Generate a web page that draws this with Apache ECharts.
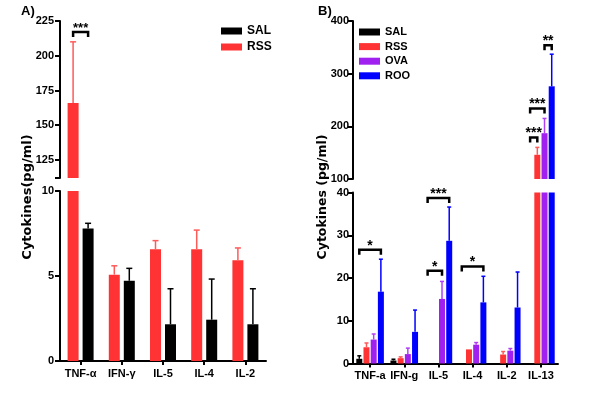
<!DOCTYPE html>
<html><head><meta charset="utf-8">
<script src="https://cdn.jsdelivr.net/npm/echarts@6/dist/echarts.min.js"></script>
<style>html,body{margin:0;padding:0;background:#fff}#c{width:600px;height:403px}</style>
</head><body><div id="c"></div>
<script>
// ---------- Panel A data ----------
const catsA = ['TNF-α', 'IFN-γ', 'IL-5', 'IL-4', 'IL-2'];
const rssA = [166, 5.08, 6.57, 6.57, 5.92];
const rssAErr = [44, 0.52, 0.51, 1.13, 0.73];
const salA = [7.8, 4.72, 2.16, 2.43, 2.16];
const salAErr = [0.3, 0.73, 2.09, 2.39, 2.09];
const ticksATop = [125, 150, 175, 200, 225];
// significance: [category, fromBar, toBar, yValue, label]
const sigA = [[0, 0, 1, 217, '***']];

// ---------- Panel B data ----------
const catsB = ['TNF-a', 'IFN-g', 'IL-5', 'IL-4', 'IL-2', 'IL-13'];
const salB = [1.1, 0.7, null, null, null, null];
const salBErr = [0.7, 0.3, null, null, null, null];
const rssB = [3.8, 1.25, null, 3.3, 2.1, 146];
const rssBErr = [1.0, 0.3, null, null, 0.7, 14];
const ovaB = [5.6, 2.2, 15.1, 4.4, 3.0, 187];
const ovaBErr = [1.3, 1.4, 4.1, 0.5, 0.5, 28];
const rooB = [16.8, 7.4, 28.7, 14.3, 13.1, 276];
const rooBErr = [7.6, 5.1, 7.9, 6.1, 8.3, 61];
const sigBLow = [[0, 0, 3, 26.6, '*'], [2, 0, 3, 38.7, '***'], [2, 0, 2, 21.7, '*'], [3, 0, 3, 22.7, '*']];
const sigBHigh = [[5, 0, 1, 179, '***'], [5, 0, 2, 234, '***'], [5, 2, 3, 354, '**']];

// ---------- styling ----------
const FONT = '"Liberation Sans", Arial, sans-serif';
const RED = '#ff3333', RED_E = '#ff5a5a', BLACK = '#000000', PURPLE = '#a020f0', BLUE = '#0000ff';
const lab = { color: '#000', fontWeight: 'bold', fontSize: 11, fontFamily: FONT };
const A_BW = 11, A_GAP = 4, B_BW = 6, B_GAP = 1.2;

function xAx(grid, cats, show) {
  return {
    type: 'category', gridIndex: grid, data: cats, show: show,
    axisLine: { show: true, lineStyle: { color: '#000', width: 2 } },
    axisTick: { show: true, alignWithLabel: true, length: 4, lineStyle: { color: '#000', width: 2 } },
    axisLabel: Object.assign({ interval: 0, margin: 7 }, lab),
    splitLine: { show: false }
  };
}
function yAx(grid, min, max, extra) {
  return Object.assign({
    type: 'value', gridIndex: grid, min: min, max: max,
    axisLine: { show: true, lineStyle: { color: '#000', width: 2 } },
    axisTick: { show: true, length: 5, lineStyle: { color: '#000', width: 2 } },
    axisLabel: Object.assign({ margin: 6 }, lab),
    splitLine: { show: false }
  }, extra);
}
function bar(name, data, ai, color, bw, gapPx) {
  return {
    type: 'bar', name: name, xAxisIndex: ai, yAxisIndex: ai, data: data,
    barWidth: bw, barGap: (gapPx / bw * 100) + '%', clip: true, silent: true,
    itemStyle: { color: color }, z: 2
  };
}
function errS(ai, vals, errs, i, n, bw, gapPx, color, capW, lo, hi) {
  const data = vals.map((v, k) => [k, v, errs[k]])
    .filter(d => d[1] != null && d[2] != null && d[1] >= lo && d[1] <= hi);
  return {
    type: 'custom', xAxisIndex: ai, yAxisIndex: ai, silent: true, z: 3,
    encode: { x: 0, y: 1 }, data: data,
    renderItem: function (p, api) {
      const c = api.value(0), v = api.value(1), e = api.value(2);
      const off = (i - (n - 1) / 2) * (bw + gapPx);
      const b = api.coord([c, v]), t = api.coord([c, v + e]);
      const x = b[0] + off;
      return { type: 'group', children: [
        { type: 'line', shape: { x1: x, y1: b[1], x2: x, y2: t[1] }, style: { stroke: color, lineWidth: 1.5 } },
        { type: 'line', shape: { x1: x - capW / 2, y1: t[1], x2: x + capW / 2, y2: t[1] }, style: { stroke: color, lineWidth: 1.5 } }
      ] };
    }
  };
}
function sigS(ai, list, n, bw, gapPx, fs) {
  return {
    type: 'custom', xAxisIndex: ai, yAxisIndex: ai, silent: true, z: 4,
    encode: { x: 0, y: 3 }, data: list.map(d => d.slice(0, 4)),
    renderItem: function (p, api) {
      const c = api.value(0), f = api.value(1), t = api.value(2), y = api.value(3);
      const label = list[p.dataIndex][4];
      const pt = api.coord([c, y]);
      const x1 = pt[0] + (f - (n - 1) / 2) * (bw + gapPx);
      const x2 = pt[0] + (t - (n - 1) / 2) * (bw + gapPx);
      const leg = 5;
      return { type: 'group', children: [
        { type: 'polyline', shape: { points: [[x1, pt[1] + leg], [x1, pt[1]], [x2, pt[1]], [x2, pt[1] + leg]] },
          style: { stroke: '#000', lineWidth: 2.5, fill: null } },
        { type: 'text', style: { text: label, x: (x1 + x2) / 2, y: pt[1] + 3, align: 'center', verticalAlign: 'bottom',
          font: 'bold ' + fs + 'px ' + FONT, fill: '#000' } }
      ] };
    }
  };
}

const series = [];
// Panel A (axes 0 top, 1 bottom)
[[0, 112, 225], [1, 0, 10]].forEach(([ai, lo, hi]) => {
  series.push(bar('RSS', rssA, ai, RED, A_BW, A_GAP));
  series.push(bar('SAL', salA, ai, BLACK, A_BW, A_GAP));
});
[[0, 112, 225], [1, 0, 10]].forEach(([ai, lo, hi]) => {
  series.push(errS(ai, rssA, rssAErr, 0, 2, A_BW, A_GAP, RED_E, 6, lo, hi));
  series.push(errS(ai, salA, salAErr, 1, 2, A_BW, A_GAP, BLACK, 6, lo, hi));
});
series.push(sigS(0, sigA, 2, A_BW, A_GAP, 13));
// Panel B (axes 2 top, 3 bottom)
[[2, 100, 400], [3, 0, 40]].forEach(([ai, lo, hi]) => {
  series.push(bar('SAL', salB, ai, BLACK, B_BW, B_GAP));
  series.push(bar('RSS', rssB, ai, RED, B_BW, B_GAP));
  series.push(bar('OVA', ovaB, ai, PURPLE, B_BW, B_GAP));
  series.push(bar('ROO', rooB, ai, BLUE, B_BW, B_GAP));
});
[[2, 100, 400], [3, 0, 40]].forEach(([ai, lo, hi]) => {
  series.push(errS(ai, salB, salBErr, 0, 4, B_BW, B_GAP, BLACK, 4, lo, hi));
  series.push(errS(ai, rssB, rssBErr, 1, 4, B_BW, B_GAP, RED_E, 4, lo, hi));
  series.push(errS(ai, ovaB, ovaBErr, 2, 4, B_BW, B_GAP, '#b040f5', 4, lo, hi));
  series.push(errS(ai, rooB, rooBErr, 3, 4, B_BW, B_GAP, BLUE, 4, lo, hi));
});
series.push(sigS(3, sigBLow, 4, B_BW, B_GAP, 14));
series.push(sigS(2, sigBHigh, 4, B_BW, B_GAP, 14));

const legendText = { color: '#000', fontWeight: 'bold', fontSize: 12, fontFamily: FONT, lineHeight: 12 };
const TITLE_FONT = { color: '#000', fontWeight: 'bold', fontSize: 13, fontFamily: FONT };
const option = {
  animation: false,
  backgroundColor: '#fff',
  title: [
    { text: 'A)', left: 21, top: 5, padding: 0, textStyle: TITLE_FONT },
    { text: 'B)', left: 318, top: 5, padding: 0, textStyle: TITLE_FONT }
  ],
  legend: [
    { data: ['SAL', 'RSS'], orient: 'vertical', left: 221, top: 25, icon: 'rect', itemWidth: 21, itemHeight: 7,
      itemGap: 4, selectedMode: false, textStyle: legendText, padding: 0 },
    { data: ['SAL', 'RSS', 'OVA', 'ROO'], orient: 'vertical', left: 359, top: 26, icon: 'rect', itemWidth: 21, itemHeight: 7,
      itemGap: 2.6, selectedMode: false, textStyle: Object.assign({}, legendText, { fontSize: 11 }), padding: 0 }
  ],
  grid: [
    { left: 60, top: 21, width: 206, height: 157, outerBoundsMode: 'none' },
    { left: 60, top: 191, width: 206, height: 170, outerBoundsMode: 'none' },
    { left: 353, top: 21, width: 205, height: 158, outerBoundsMode: 'none' },
    { left: 353, top: 192.5, width: 205, height: 171, outerBoundsMode: 'none' }
  ],
  xAxis: [xAx(0, catsA, false), xAx(1, catsA, true), xAx(2, catsB, false), xAx(3, catsB, true)],
  yAxis: [
    yAx(0, 112, 225, {
      axisLabel: Object.assign({ margin: 6, customValues: ticksATop }, lab),
      axisTick: { show: true, length: 5, customValues: [112].concat(ticksATop), lineStyle: { color: '#000', width: 2 } }
    }),
    yAx(1, 0, 10, { interval: 5 }),
    yAx(2, 100, 400, { interval: 100, axisLabel: Object.assign({ margin: 4 }, lab) }),
    yAx(3, 0, 40, { interval: 10, axisLabel: Object.assign({ margin: 4 }, lab) })
  ],
  graphic: [
    { type: 'text', x: 28, y: 197, rotation: Math.PI / 2,
      style: { text: 'Cytokines(pg/ml)', font: 'bold 13px "DejaVu Sans", sans-serif', fill: '#000', align: 'center', verticalAlign: 'middle' } },
    { type: 'text', x: 323, y: 197, rotation: Math.PI / 2,
      style: { text: 'Cytokines (pg/ml)', font: 'bold 12.5px "DejaVu Sans", sans-serif', fill: '#000', align: 'center', verticalAlign: 'middle' } }
  ],
  series: series
};
const chart = echarts.init(document.getElementById('c'));
chart.setOption(option);
</script>
</body></html>
